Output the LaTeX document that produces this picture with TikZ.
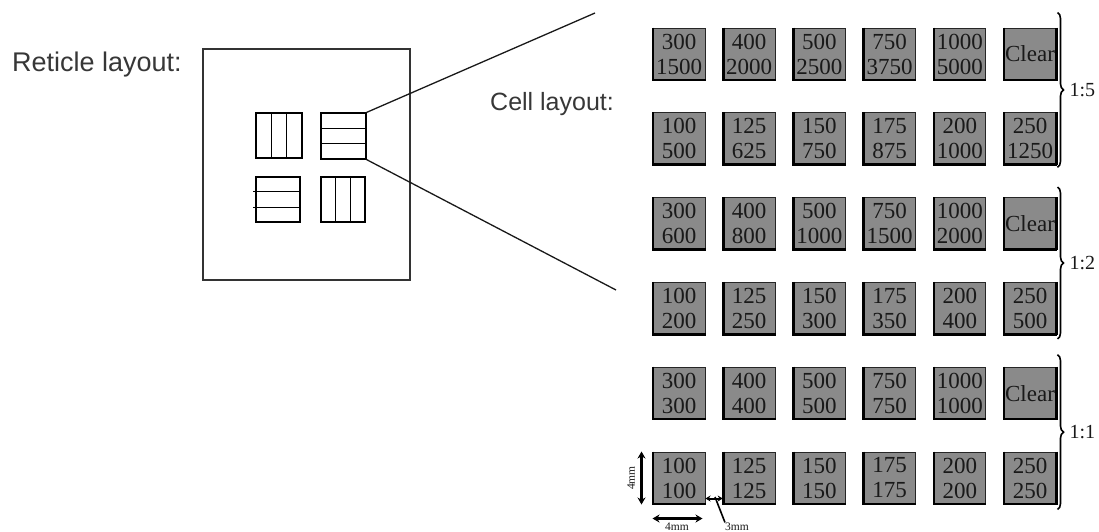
\documentclass[tikz,border=0pt]{standalone}
\usepackage{fontspec}
\setmainfont{Liberation Serif}
\newfontfamily\sansf{Liberation Sans}
\usetikzlibrary{arrows.meta,decorations.pathreplacing,calc}
\definecolor{cellgray}{RGB}{138,138,138}
\definecolor{labelgray}{RGB}{55,55,55}
\definecolor{txtdark}{RGB}{25,25,25}
\tikzset{
  cell/.style={draw=black!85, line width=1pt, fill=cellgray, minimum width=52pt, minimum height=52pt,
    inner sep=0pt, align=center, text=txtdark, font=\fontsize{23}{25}\selectfont},
  celledge/.style={line width=2.6pt, black},
  rightedge/.style={line width=3pt, black},
  bracestyle/.style={decorate, decoration={brace, amplitude=6pt}, line width=1.6pt},
  ratio/.style={font=\fontsize{20}{22}\selectfont, text=txtdark, anchor=west},
  bigtext/.style={text=labelgray, inner sep=0pt},
  subbox/.style={draw=black, line width=1.2pt, inner sep=0pt},
  divline/.style={line width=1.2pt},
  zoomline/.style={line width=1.3pt, black!90},
  dimarrow/.style={line width=2.6pt, {Stealth[length=7pt,width=8pt]}-{Stealth[length=7pt,width=8pt]}},
  smallarrow/.style={line width=2pt, {Stealth[length=5pt,width=6pt]}-{Stealth[length=5pt,width=6pt]}},
  dimlabel/.style={font=\fontsize{11.5}{12}\selectfont, inner sep=0pt, text=txtdark}
}
\newcommand\cellrow[3]{%
  \foreach \t [count=\i] in {#3} {%
    \node[cell] (b#1\i) at ({679+70.2*(\i-1)},#2) {\t};
    \draw[celledge] ([xshift=0.6pt]b#1\i.north west) -- ([xshift=0.6pt,yshift=0.6pt]b#1\i.south west) -- ([yshift=0.6pt]b#1\i.south east);
  }%
}
\begin{document}
\begin{tikzpicture}[x=1pt,y=-1pt]
\useasboundingbox (0,0) rectangle (1099,531);

% texts
\node[bigtext, anchor=base west, font=\sansf\fontsize{27}{30}\selectfont] (rlab) at (12,71) {Reticle layout:};
\node[bigtext, anchor=base west, font=\sansf\fontsize{25}{28}\selectfont] (clab) at (490,110) {Cell layout:};

% reticle
\node[draw=black!80, line width=1.5pt, minimum width=207pt, minimum height=231pt, inner sep=0pt] (ret) at (306.5,164.5) {};
\node[subbox, minimum width=46pt, minimum height=45pt] (tl) at (279,135.5) {};
\node[subbox, minimum width=45pt, minimum height=46pt] (tr) at (343.5,136) {};
\node[subbox, minimum width=44pt, minimum height=45pt] (bl) at (278,199.5) {};
\node[subbox, minimum width=44pt, minimum height=45pt] (br) at (343,199.5) {};
\foreach \f in {1/3,2/3} {
  \draw[divline] ($(tl.north west)!\f!(tl.north east)$) -- ($(tl.south west)!\f!(tl.south east)$);
  \draw[divline] ($(br.north west)!\f!(br.north east)$) -- ($(br.south west)!\f!(br.south east)$);
  \draw[divline] ($(tr.north west)!\f!(tr.south west)$) -- ($(tr.north east)!\f!(tr.south east)$);
  \draw[divline] ([xshift=-2pt]$(bl.north west)!\f!(bl.south west)$) -- ($(bl.north east)!\f!(bl.south east)$);
}
\coordinate (zt) at (595,13);
\coordinate (zb) at (616,290);
\draw[zoomline] (tr.north east) -- (zt);
\draw[zoomline] (tr.south east) -- (zb);

% cells
\cellrow{1}{54}{{300\\1500},{400\\2000},{500\\2500},{750\\3750},{1000\\5000},{Clear}}
\cellrow{2}{138.8}{{100\\500},{125\\625},{150\\750},{175\\875},{200\\1000},{250\\1250}}
\cellrow{3}{223.6}{{300\\600},{400\\800},{500\\1000},{750\\1500},{1000\\2000},{Clear}}
\cellrow{4}{308.4}{{100\\200},{125\\250},{150\\300},{175\\350},{200\\400},{250\\500}}
\cellrow{5}{393.2}{{300\\300},{400\\400},{500\\500},{750\\750},{1000\\1000},{Clear}}
\cellrow{6}{478}{{100\\100},{125\\125},{150\\150},{175\\175},{200\\200},{250\\250}}

\foreach \r in {1,...,6} {
  \draw[rightedge] ([xshift=-0.5pt]b\r6.north east) -- ([xshift=-0.5pt]b\r6.south east);
}

% braces
\draw[bracestyle] ([xshift=1pt,yshift=15pt]b16.north east) -- ([xshift=1pt,yshift=-2pt]b26.south east)
  node[midway, ratio, xshift=8pt] (r1) {1:5};
\draw[bracestyle] ([xshift=1pt,yshift=10pt]b36.north east) -- ([xshift=1pt,yshift=-4pt]b46.south east)
  node[midway, ratio, xshift=8pt] (r2) {1:2};
\draw[bracestyle] ([xshift=1pt,yshift=12pt]b56.north east) -- ([xshift=1pt,yshift=-5pt]b66.south east)
  node[midway, ratio, xshift=8pt] (r3) {1:1};

% dimensions
\draw[dimarrow] ([xshift=-11pt]b61.north west) -- ([xshift=-11pt]b61.south west);
\draw[dimarrow] ([yshift=-14pt]b61.south west) -- ([yshift=-14pt,xshift=-3pt]b61.south east);
\draw[smallarrow] ([yshift=6pt]b61.south east) -- ([yshift=6pt]b62.south west);
\node[dimlabel, rotate=90] (d1) at (631,478) {4mm};
\node[dimlabel] (d2) at (677,526.5) {4mm};
\node[dimlabel] (d3) at (737,526.5) {3mm};
\coordinate (d3t) at (715,497);
\draw[line width=1.6pt] (d3.north west) -- (d3t);
\end{tikzpicture}
\end{document}
